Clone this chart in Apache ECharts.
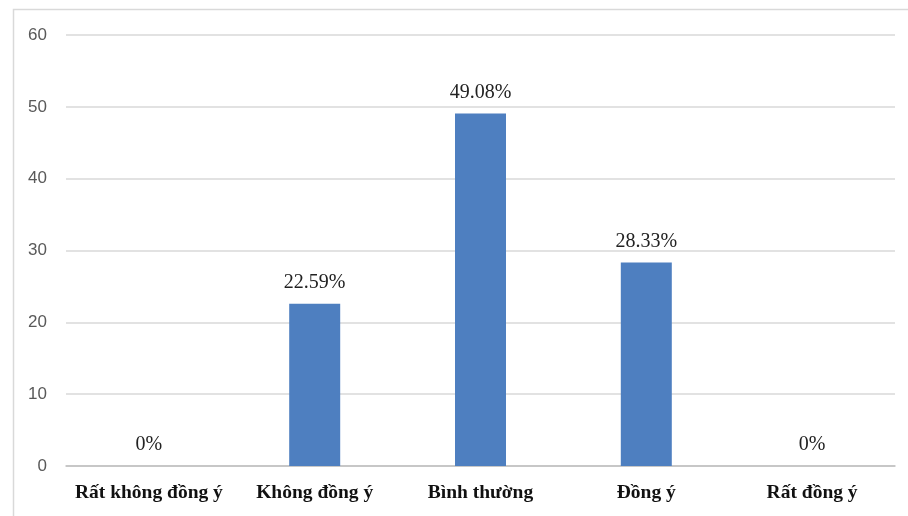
<!DOCTYPE html>
<html>
<head>
<meta charset="utf-8">
<script src="https://cdn.jsdelivr.net/npm/echarts@6/dist/echarts.min.js"></script>
<style>html,body{margin:0;padding:0;background:#fff;}#c{width:908px;height:516px;}</style>
</head>
<body>
<div id="c"></div>
<script>
const categories = ["Rất không đồng ý", "Không đồng ý", "Bình thường", "Đồng ý", "Rất đồng ý"];
const values = [0, 22.59, 49.08, 28.33, 0];
const yTicks = [0, 10, 20, 30, 40, 50, 60];

const chart = echarts.init(document.getElementById('c'), null, {renderer: 'canvas'});
chart.setOption({
  animation: false,
  backgroundColor: '#ffffff',
  graphic: [{
    type: 'rect', left: 11, top: 7, shape: {width: 910, height: 530},
    style: {fill: 'none', stroke: '#d9d9d9', lineWidth: 1.5}, silent: true
  }],
  grid: {left: 66, right: 13, top: 35, bottom: 50, containLabel: false},
  xAxis: {
    type: 'category', data: categories,
    axisLine: {show: true, lineStyle: {color: '#bfbfbf', width: 1.5}},
    axisTick: {show: false},
    axisLabel: {interval: 0, hideOverlap: false, color: '#111', fontFamily: 'Liberation Serif', fontWeight: 'bold', fontSize: 19.5, margin: 17}
  },
  yAxis: {
    type: 'value', min: yTicks[0], max: yTicks[yTicks.length - 1], interval: 10,
    axisLine: {show: false}, axisTick: {show: false},
    splitLine: {lineStyle: {color: '#d9d9d9', width: 1.5}},
    axisLabel: {color: '#595959', fontFamily: 'Liberation Sans', fontSize: 17, margin: 19}
  },
  series: [{
    type: 'bar', data: values, barWidth: 51,
    itemStyle: {color: '#4e7fc0'},
    label: {
      show: true, position: 'top', distance: 11,
      formatter: p => p.value + '%',
      color: '#222', fontFamily: 'Liberation Serif', fontSize: 20
    }
  }]
});
</script>
</body>
</html>
